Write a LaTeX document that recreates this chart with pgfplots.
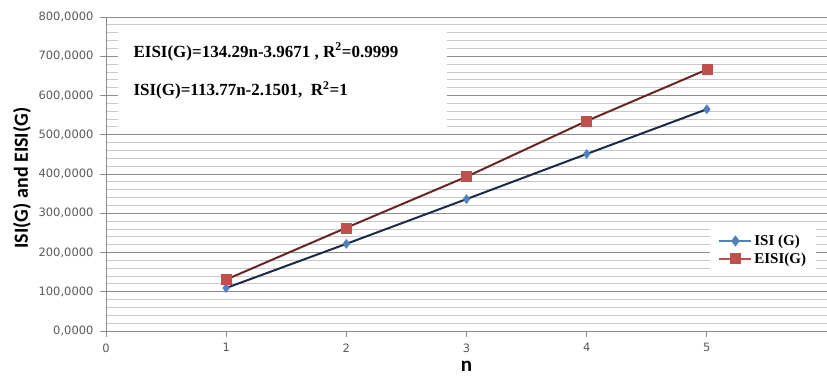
\documentclass[border=0pt]{standalone}
\usepackage{fontspec}
\setmainfont{Liberation Serif}
\newfontfamily\tickfont{DejaVu Sans}
\newfontfamily\labfont{Carlito}
\usepackage{pgfplots}
\pgfplotsset{compat=1.18}
\usetikzlibrary{calc}
\definecolor{isiline}{HTML}{1B2B47}
\definecolor{isimark}{HTML}{4F81BD}
\definecolor{eisiline}{HTML}{6A2424}
\definecolor{eisimark}{HTML}{C0504D}
\definecolor{majgrid}{HTML}{8C8C8C}
\definecolor{mingrid}{HTML}{C8C8C8}
\definecolor{ticktxt}{HTML}{595959}
\begin{document}
\begin{tikzpicture}[x=1pt,y=1pt]
\begin{axis}[
  scale only axis,
  width=721pt, height=314pt,
  xmin=0, xmax=6, ymin=0, ymax=800,
  axis x line=bottom, axis y line=left,
  axis line style={majgrid, line width=0.8pt, -},
  xtick={0,1,2,3,4,5},
  ytick={0,100,...,800},
  minor y tick num=4,
  ymajorgrids, yminorgrids,
  major grid style={majgrid, line width=0.8pt},
  minor grid style={mingrid, line width=0.8pt},
  major tick length=6pt, minor tick length=0pt,
  tick style={majgrid, line width=0.8pt},
  xtick align=outside, ytick align=outside,
  tick label style={font=\tickfont\fontsize{11.5}{13}\selectfont, text=ticktxt},
  yticklabel style={xshift=-3pt},
  xticklabel style={yshift=-3pt},
  /pgf/number format/assume math mode=true,
  yticklabel style={/pgf/number format/.cd, fixed, fixed zerofill, precision=4, use comma, 1000 sep={}},
  xticklabel style={/pgf/number format/.cd, fixed, precision=0},
  xlabel={n},
  xlabel style={font=\labfont\bfseries\fontsize{21}{23}\selectfont, at={(axis description cs:0.5,0)}, anchor=base, yshift=-41pt},
  ylabel={ISI(G) and EISI(G)},
  ylabel style={font=\labfont\bfseries\fontsize{20}{22}\selectfont, at={(axis description cs:-0.1165,0.487)}, anchor=center},
  clip=false,
  legend image code/.code={\draw[mark repeat=2,mark phase=2,#1] plot coordinates {(0pt,0pt) (16pt,0pt) (32pt,0pt)};},
  legend style={at={(0.838,0.338)}, anchor=north west, draw=none, fill=white,
    font=\bfseries\fontsize{15}{17}\selectfont, inner xsep=8pt, inner ysep=8pt, row sep=2pt,
    /tikz/every even column/.append style={column sep=2pt}},
  legend cell align=left,
]
\fill[white] (axis cs:0.1,767) rectangle (axis cs:2.84,512);
\node[anchor=base west, font=\bfseries\fontsize{17}{19}\selectfont] at (axis cs:0.2,698) {EISI(G)=134.29n-3.9671 , R\textsuperscript{2}=0.9999};
\node[anchor=base west, font=\bfseries\fontsize{17}{19}\selectfont] at (axis cs:0.2,599) {ISI(G)=113.77n-2.1501,\ \ R\textsuperscript{2}=1};
\addplot[forget plot, color=isiline, line width=2pt, mark=diamond*, mark size=4.5pt,
  mark options={fill=isimark, draw=isimark, line width=0.5pt}]
  coordinates {(1,109.5) (2,222) (3,336) (4,451) (5,565)};
\addplot[forget plot, color=eisiline, line width=2pt, mark=square*, mark size=5pt,
  mark options={fill=eisimark, draw=eisimark, line width=0.5pt}]
  coordinates {(1,131) (2,263) (3,393) (4,535) (5,666)};
\addlegendimage{color=isimark, line width=2pt, mark=diamond*, mark size=4pt, mark options={fill=isimark}}
\addlegendentry{ISI (G)}
\addlegendimage{color=eisimark, line width=2pt, mark=square*, mark size=4.5pt, mark options={fill=eisimark}}
\addlegendentry{EISI(G)}
\end{axis}
\pgfresetboundingbox
\path ($(current axis.south west)+(-106pt,-45pt)$) rectangle ($(current axis.north east)+(0pt,17pt)$);
\end{tikzpicture}
\end{document}
